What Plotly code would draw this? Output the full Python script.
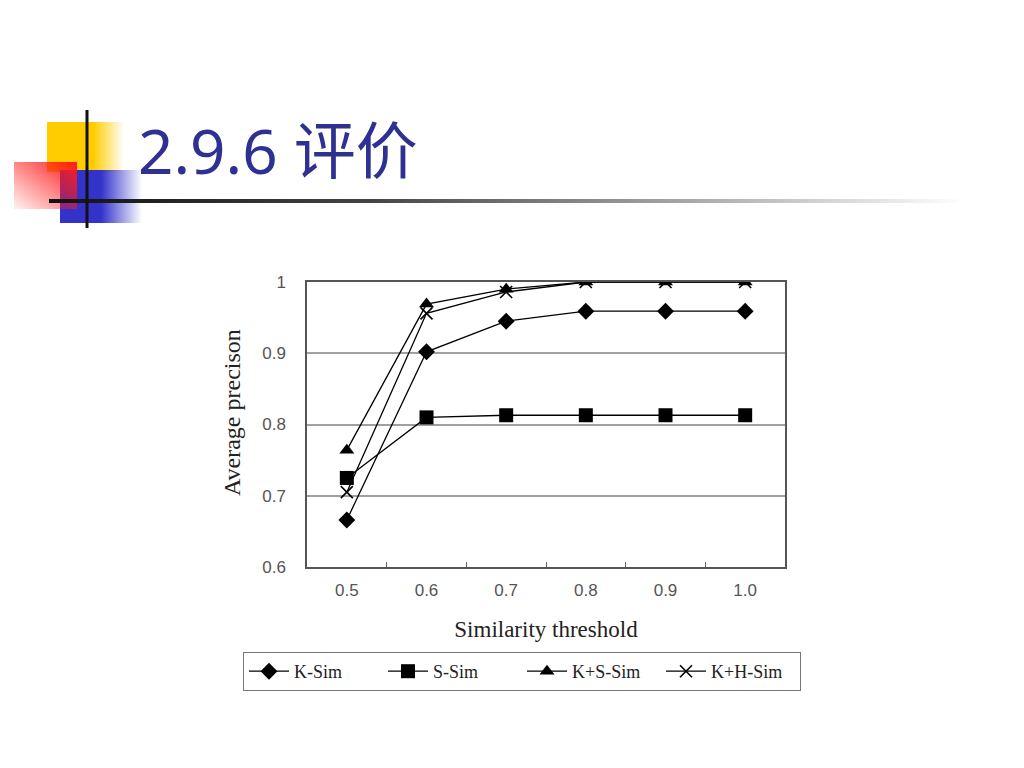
import base64
import plotly.graph_objects as go

thresholds = ["0.5", "0.6", "0.7", "0.8", "0.9", "1.0"]
k_sim = [0.666, 0.902, 0.945, 0.959, 0.959, 0.959]
s_sim = [0.725, 0.810, 0.813, 0.813, 0.813, 0.813]
ks_sim = [0.764, 0.969, 0.990, 1.0, 1.0, 1.0]
kh_sim = [0.705, 0.956, 0.986, 1.0, 1.0, 1.0]
series_names = ["K-Sim", "S-Sim", "K+S-Sim", "K+H-Sim"]
y_ticks = [0.6, 0.7, 0.8, 0.9, 1.0]
y_tick_labels = ["0.6", "0.7", "0.8", "0.9", "1"]

OFF = 8  # default body margin of the html page
W, H = 1024 - OFF, 768 - OFF
L, R, T, B = 307, 785, 282, 567  # plot area in screen pixels

def px(x):
    return (x - L) / (R - L)

def py(y):
    return (B - y) / (B - T)

fig = go.Figure()
symbols = ["diamond", "square", "triangle-up", "x-thin-open"]
sizes = [13, 14, 13, 12]
for name, vals, sym, sz in zip(series_names, [k_sim, s_sim, ks_sim, kh_sim], symbols, sizes):
    fig.add_trace(go.Scatter(
        x=thresholds, y=vals, name=name, mode="lines+markers",
        line=dict(color="black", width=1.3),
        marker=dict(symbol=sym, size=sz, color="black",
                    line=dict(color="black", width=1.6 if sym == "x-thin-open" else 0)),
    ))

def svg_uri(svg):
    return "data:image/svg+xml;base64," + base64.b64encode(svg.encode()).decode()

def grad_svg(color, stops, x2="1", y2="0", x1="0", y1="0"):
    st = "".join(f'<stop offset="{o}" stop-color="{color}" stop-opacity="{a}"/>' for o, a in stops)
    return svg_uri(
        '<svg xmlns="http://www.w3.org/2000/svg" width="100" height="100" preserveAspectRatio="none" viewBox="0 0 100 100">'
        f'<defs><linearGradient id="g" x1="{x1}" y1="{y1}" x2="{x2}" y2="{y2}">{st}</linearGradient></defs>'
        '<rect width="100" height="100" fill="url(#g)"/></svg>')

images = []
def add_img(src, x0, x1, y0, y1):
    images.append(dict(source=src, xref="paper", yref="paper", x=px(x0), y=py(y0),
                       sizex=px(x1) - px(x0), sizey=py(y0) - py(y1),
                       xanchor="left", yanchor="top", sizing="stretch", layer="above"))

add_img(grad_svg("#FFCC00", [(0, 1), (0.6, 1), (1, 0)]), 47, 124, 122, 172)
add_img(grad_svg("#3333CC", [(0, 1), (0.5, 1), (1, 0)]), 60, 142, 170, 223)
add_img(grad_svg("#FF1A1A", [(0, 0.05), (1, 1)], x1="0", y1="1", x2="1", y2="0"), 14, 77, 162, 209)
add_img(svg_uri(
    '<svg xmlns="http://www.w3.org/2000/svg" width="100" height="10" preserveAspectRatio="none" viewBox="0 0 100 10">'
    '<defs><linearGradient id="h" x1="0" y1="0" x2="1" y2="0">'
    '<stop offset="0" stop-color="#111"/><stop offset="0.35" stop-color="#444"/>'
    '<stop offset="1" stop-color="#fff"/></linearGradient></defs>'
    '<rect width="100" height="10" fill="url(#h)"/></svg>'), 49, 965, 199, 203)

shapes = [dict(type="line", xref="paper", yref="paper", x0=px(87), x1=px(87),
               y0=py(110), y1=py(228), line=dict(color="#111111", width=3), layer="above")]

fig.update_layout(
    width=W, height=H,
    margin=dict(l=L - OFF, r=W - (R - OFF), t=T - OFF, b=H - (B - OFF), autoexpand=False),
    paper_bgcolor="white", plot_bgcolor="white",
    images=images,
    shapes=shapes,
    showlegend=True,
    legend=dict(orientation="h", x=px(243), y=py(652),
                xanchor="left", yanchor="top",
                bordercolor="#777777", borderwidth=1, bgcolor="white",
                font=dict(family="Liberation Serif, Times New Roman, serif", size=18, color="#222222"),
                itemwidth=40, tracegroupgap=0, entrywidth=84, entrywidthmode="pixels"),
    annotations=[
        dict(text="2.9.6 评价", xref="paper", yref="paper", x=px(136), y=py(150),
             xanchor="left", yanchor="middle", showarrow=False,
             font=dict(family="Noto Sans, Noto Sans CJK SC, sans-serif", size=62, color="#2E3192")),
        dict(text="Average precison", xref="paper", yref="paper", x=px(232), y=py(413),
             xanchor="center", yanchor="middle", textangle=-90, showarrow=False,
             font=dict(family="Liberation Serif, Times New Roman, serif", size=24, color="#222222")),
    ],
    xaxis=dict(
        type="category", range=[-0.5, 5.5], tickson="boundaries",
        ticks="inside", ticklen=5, tickcolor="#666666", tickwidth=1,
        showgrid=False, showline=True, linecolor="#555555", linewidth=1.5, mirror=True,
        ticklabelstandoff=7,
        tickfont=dict(family="Liberation Sans, Arial, sans-serif", size=17, color="#555555"),
        title=dict(text="Similarity threshold", standoff=22,
                   font=dict(family="Liberation Serif, Times New Roman, serif", size=23, color="#222222")),
    ),
    yaxis=dict(
        range=[0.6, 1.0], tickvals=y_ticks, ticktext=y_tick_labels,
        showgrid=True, gridcolor="#a0a0a0", gridwidth=2,
        showline=True, linecolor="#555555", linewidth=1.5, mirror=True,
        ticks="", zeroline=False, ticklabelstandoff=16,
        tickfont=dict(family="Liberation Sans, Arial, sans-serif", size=17, color="#555555"),
    ),
)

fig.write_html("out.html")
